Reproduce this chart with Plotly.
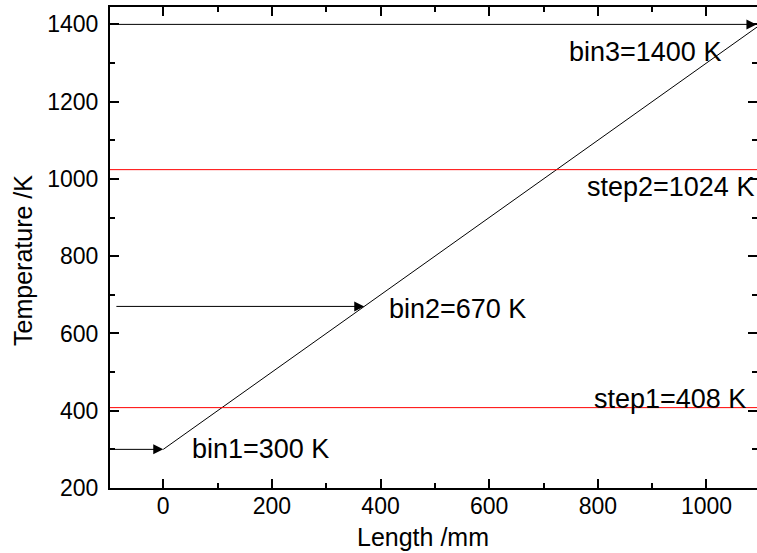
import plotly.graph_objects as go

# Temperature profile along the length
length_mm = [0, 1100]
temperature_k = [300, 1400]

# Step temperatures (horizontal red lines)
step_names = ["step1", "step2"]
step_values = [408, 1024]

# Bin temperatures (arrows pointing at the profile)
bin_names = ["bin1", "bin2", "bin3"]
bin_values = [300, 670, 1400]

FONT = "Liberation Sans, Arial, sans-serif"
X_RANGE = [-98, 1093]
Y_RANGE = [200, 1445]

fig = go.Figure()

fig.add_trace(go.Scatter(
    x=length_mm, y=temperature_k, mode="lines",
    line=dict(color="black", width=1), showlegend=False, hoverinfo="skip",
))

# invisible trace on the right-hand axis so its ticks are drawn
fig.add_trace(go.Scatter(
    x=[None], y=[None], yaxis="y2", showlegend=False, hoverinfo="skip",
))

for name, val in zip(step_names, step_values):
    fig.add_shape(type="line", xref="paper", x0=0, x1=1, yref="y", y0=val, y1=val,
                  line=dict(color="#FF0000", width=1))

# arrow tips sit on the profile: length where the profile reaches each bin temperature
slope = (temperature_k[1] - temperature_k[0]) / (length_mm[1] - length_mm[0])
tail_x = [X_RANGE[0], -89, X_RANGE[0]]
for name, val, tx in zip(bin_names, bin_values, tail_x):
    tip_x = length_mm[0] + (val - temperature_k[0]) / slope
    tip_x = min(tip_x, X_RANGE[1] - 1)
    fig.add_annotation(
        x=tip_x, y=val, ax=tx, ay=val, xref="x", yref="y", axref="x", ayref="y",
        text="", showarrow=True, arrowhead=2, arrowsize=2, arrowwidth=1,
        arrowcolor="black", standoff=0, startstandoff=0,
    )

label_font = dict(family=FONT, size=27, color="black")
labels = [
    (f"bin1={bin_values[0]} K", 49, 302),
    (f"bin2={bin_values[1]} K", 412, 664),
    (f"bin3={bin_values[2]} K", 743, 1328),
    (f"step1={step_values[0]} K", 789, 431),
    (f"step2={step_values[1]} K", 776, 978),
]
for text, lx, ly in labels:
    fig.add_annotation(x=lx, y=ly, xref="x", yref="y", text=text, showarrow=False,
                       xanchor="left", yanchor="middle", font=label_font)

# axis titles
title_font = dict(family=FONT, size=25, color="black")
fig.add_annotation(x=0.4838, y=-0.102, xref="paper", yref="paper", text="Length /mm",
                   showarrow=False, xanchor="center", yanchor="middle", font=title_font)
fig.add_annotation(x=-0.1345, y=0.474, xref="paper", yref="paper", text="Temperature /K",
                   showarrow=False, xanchor="center", yanchor="middle", textangle=-90,
                   font=title_font)

tick_font = dict(family=FONT, size=23, color="black")
fig.update_layout(
    width=757, height=553,
    margin=dict(l=110, r=0, t=7, b=65),
    paper_bgcolor="white", plot_bgcolor="white",
    showlegend=False,
    xaxis=dict(
        range=X_RANGE, tick0=0, dtick=200, ticks="inside", ticklen=9, tickwidth=2,
        tickcolor="black", showline=True, linewidth=2, linecolor="black",
        mirror="ticks", showgrid=False, zeroline=False, tickfont=tick_font,
        ticklabelstandoff=-4,
        minor=dict(dtick=100, tick0=0, ticks="inside", ticklen=5, tickwidth=2,
                   tickcolor="black", showgrid=False),
    ),
    yaxis=dict(
        range=Y_RANGE, tick0=200, dtick=200, ticks="inside", ticklen=9, tickwidth=2,
        tickcolor="black", showline=True, linewidth=2, linecolor="black",
        showgrid=False, zeroline=False, tickfont=tick_font, ticklabelstandoff=5,
        minor=dict(dtick=100, tick0=200, ticks="inside", ticklen=5, tickwidth=2,
                   tickcolor="black", showgrid=False),
    ),
    yaxis2=dict(
        overlaying="y", side="right", range=Y_RANGE, tick0=200, dtick=200,
        ticks="inside", ticklen=9, tickwidth=2, tickcolor="black",
        showline=False, showgrid=False, zeroline=False, showticklabels=False,
        minor=dict(dtick=100, tick0=200, ticks="inside", ticklen=5, tickwidth=2,
                   tickcolor="black", showgrid=False),
    ),
)

fig.write_html("out.html")
